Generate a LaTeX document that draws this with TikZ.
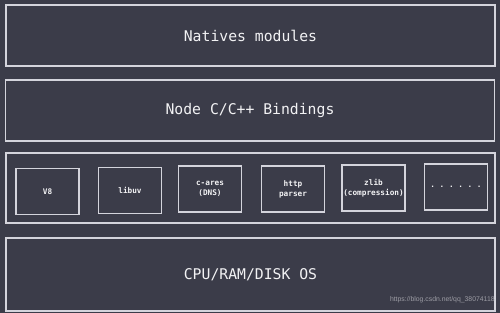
\documentclass[tikz,border=0pt]{standalone}
\usepackage{fontspec}
\setmonofont{DejaVu Sans Mono}
\setsansfont{Liberation Sans}
\definecolor{bgdark}{HTML}{3B3C49}
\definecolor{chalk}{HTML}{D4D4DC}
\definecolor{inkwhite}{HTML}{F2F2F4}
\definecolor{markgray}{HTML}{9C9CA4}
\begin{document}
\begin{tikzpicture}[x=0.02cm, y=-0.02cm,
    layer/.style={draw=chalk, line width=0.9pt, minimum width=9.78cm,
        text=inkwhite, font=\ttfamily\fontsize{8.4}{10}\selectfont},
    lib/.style={draw=chalk, line width=0.8pt, minimum width=1.26cm,
        minimum height=0.92cm, align=center, inner sep=0.5pt,
        text=inkwhite, font=\ttfamily\bfseries\fontsize{4.4}{5.6}\selectfont}]

    % Background
    \fill[bgdark] (0,0) rectangle (500,313);

    % Layers
    \node[layer, minimum height=1.22cm] (natives) at (250.5,35.5) {Natives modules};
    \node[layer, minimum height=1.22cm] (bindings) at (250,110.5) {Node C/C++ Bindings};
    \node[layer, minimum height=1.40cm] (deps) at (250.5,188) {};
    \node[layer, minimum height=1.46cm] (os) at (250.5,274.5) {CPU/RAM/DISK OS};

    % Dependencies
    \node[lib] (veight) at (47.5,191.5) {V8};
    \node[lib] (libuv) at (130,190.5) {libuv};
    \node[lib] (cares) at (210,189) {c-ares\\(DNS)};
    \node[lib] (http) at (293,189) {http\\parser};
    \node[lib] (zlib) at (373.5,188) {zlib\\(compression)};
    \node[lib] (more) at (456,187) {.\ .\ .\ .\ .\ .};

    % Watermark
    \node[anchor=east, inner sep=0pt, text=markgray,
        font=\sffamily\fontsize{3.9}{4.5}\selectfont] (mark) at (495,300)
        {https://blog.csdn.net/qq\_38074118};

\end{tikzpicture}
\end{document}
